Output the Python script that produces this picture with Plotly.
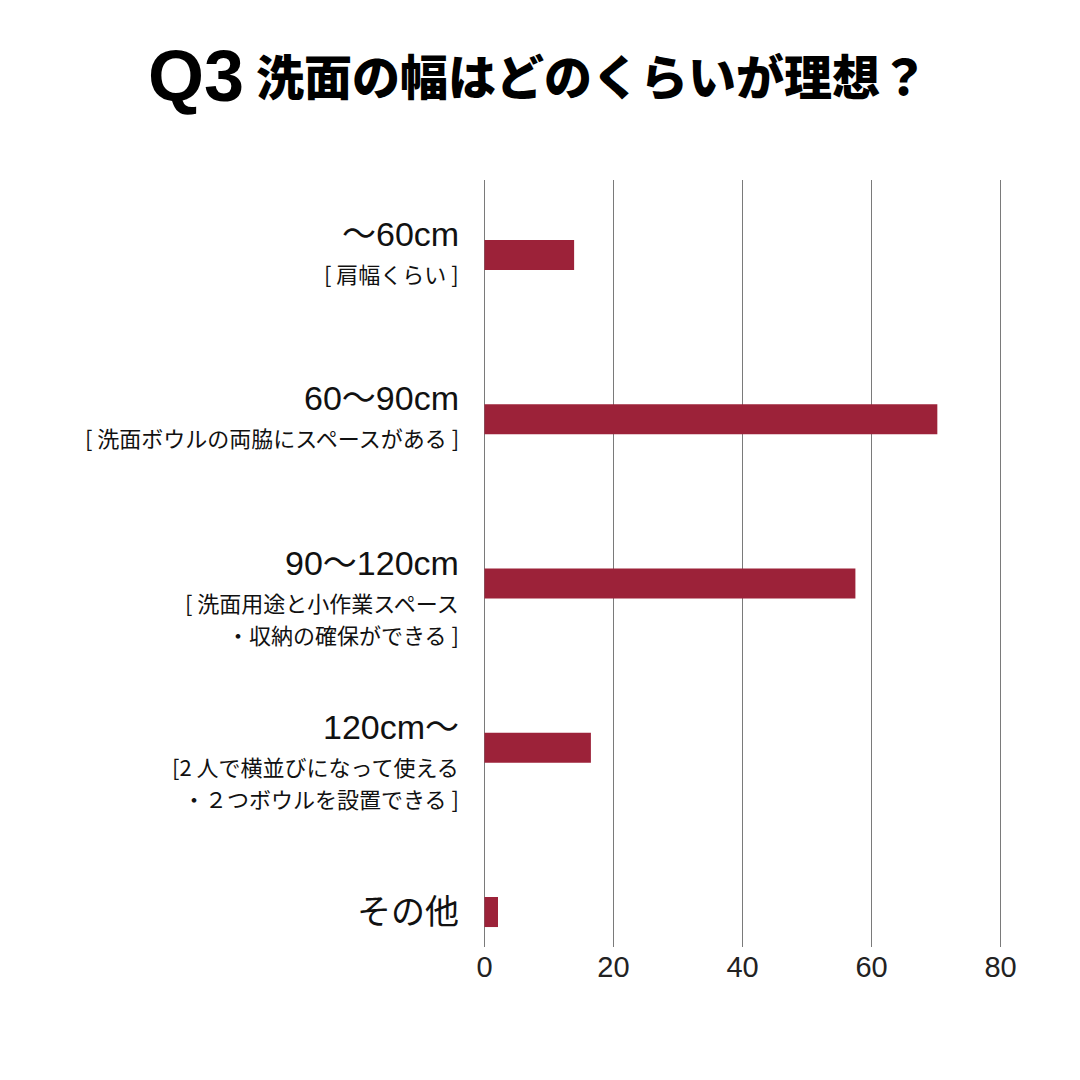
import plotly.graph_objects as go

# answers to Q3 (percent of respondents)
categories = ["～60cm", "60～90cm", "90～120cm", "120cm～", "その他"]
notes = [
    ["[ 肩幅くらい ]"],
    ["[ 洗面ボウルの両脇にスペースがある ]"],
    ["[ 洗面用途と小作業スペース", "・収納の確保ができる ]"],
    ["[2 人で横並びになって使える", "・２つボウルを設置できる ]"],
    [],
]
values = [13.9, 70.2, 57.5, 16.5, 2.1]
x_ticks = [0, 20, 40, 60, 80]

BAR_COLOR = "#9c2239"
LATIN = "Liberation Sans, Noto Sans CJK JP, sans-serif"
JP = "Noto Sans CJK JP, sans-serif"

fig = go.Figure()
fig.add_trace(go.Bar(
    x=values,
    y=categories,
    orientation="h",
    width=0.183,
    marker=dict(color=BAR_COLOR, line=dict(width=0)),
    hoverinfo="skip",
))

annotations = []
for cat, lines in zip(categories, notes):
    # main label just above the bar centre, notes below it
    annotations.append(dict(
        x=0, xref="paper", y=cat, yref="y",
        xanchor="right", yanchor="middle", xshift=-18,
        yshift=21 if lines else 0,
        text=cat, showarrow=False, borderpad=0,
        font=dict(family=LATIN, size=34, color="#111"),
    ))
    for i, line in enumerate(lines):
        annotations.append(dict(
            x=0, xref="paper", y=cat, yref="y",
            xanchor="right", yanchor="middle", xshift=-18,
            yshift=-18 - 32 * i,
            text=line, showarrow=False, borderpad=0,
            font=dict(family=JP, size=22, color="#111"),
        ))

# title
annotations.append(dict(
    x=0, xref="paper", y=1, yref="paper",
    xanchor="right", yanchor="middle", xshift=-232, yshift=104,
    text="<b>Q3</b>", showarrow=False,
    font=dict(family="Liberation Sans, Arial, sans-serif", size=72, color="#000"),
))
annotations.append(dict(
    x=0, xref="paper", y=1, yref="paper",
    xanchor="left", yanchor="middle", xshift=-224, yshift=106,
    text="洗面の幅はどのくらいが理想？", showarrow=False,
    font=dict(family=JP, size=48, color="#000", weight=900),
))

# a little room either side so the 0 and 80 grid lines are drawn
fig.update_layout(
    width=1080, height=1080,
    margin=dict(l=470, r=81, t=172, b=141),
    paper_bgcolor="white", plot_bgcolor="white",
    showlegend=False,
    annotations=annotations,
    xaxis=dict(
        range=[-1, 81], tickvals=x_ticks, showgrid=True,
        gridcolor="#7a7a7a", gridwidth=1.2, zeroline=False,
        showline=False, ticks="",
        tickfont=dict(family="Liberation Sans Narrow, Liberation Sans, sans-serif", size=29, color="#222"),
    ),
    yaxis=dict(
        range=[4.213, -0.457], showticklabels=False,
        showgrid=False, zeroline=False, showline=False,
    ),
)

fig.write_html("out.html")
